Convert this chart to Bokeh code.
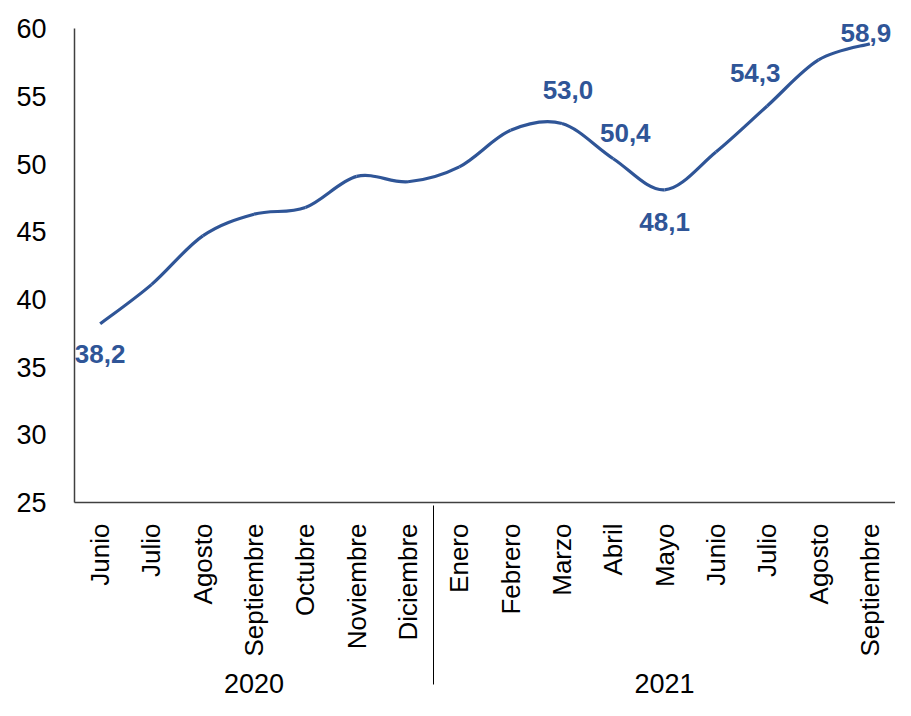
import numpy as np
from math import pi
from bokeh.plotting import figure
from bokeh.models import FactorRange, ColumnDataSource, Range1d, FixedTicker, LabelSet
from bokeh.embed import file_html
from bokeh.resources import INLINE
from bokeh.core.properties import value

# ---- data ----
years = ["2020"] * 7 + ["2021"] * 9
months = ["Junio", "Julio", "Agosto", "Septiembre", "Octubre", "Noviembre", "Diciembre",
          "Enero", "Febrero", "Marzo", "Abril", "Mayo", "Junio", "Julio", "Agosto", "Septiembre"]
values = [38.2, 41.1, 44.7, 46.3, 46.8, 49.1, 48.7,
          49.8, 52.5, 53.0, 50.4, 48.1, 50.9, 54.3, 57.7, 58.9]
y_ticks = [25, 30, 35, 40, 45, 50, 55, 60]
label_idx = [0, 9, 10, 11, 13, 15]

# label placement (screen px, positive = up)
label_dx = [0, 6, 12, 0, -12, -4]
label_dy = [-30, 34, 26, -32, 33, 11]

FONT = "Liberation Sans"
BLUE = "#2F5597"

factors = list(zip(years, months))
x_range = FactorRange(factors=factors, factor_padding=0, group_padding=0, range_padding=0)

p = figure(x_range=x_range, y_range=Range1d(25, 61.5),
           frame_width=821, frame_height=494,
           min_border_left=74, min_border_top=8, min_border_right=0, min_border_bottom=198,
           output_backend="svg", toolbar_location=None)
p.outline_line_color = None
p.xgrid.visible = False
p.ygrid.visible = False
p.background_fill_color = "white"
p.border_fill_color = "white"

# smoothed line (Catmull-Rom -> cubic Bezier) in synthetic categorical coords
xs = np.arange(len(values)) + 0.5
ys = np.array(values, dtype=float)
n = len(values)
x0, y0, x1, y1, cx0, cy0, cx1, cy1 = [], [], [], [], [], [], [], []
for i in range(n - 1):
    ip = max(i - 1, 0)
    inx = min(i + 2, n - 1)
    x0.append(xs[i]); y0.append(ys[i])
    x1.append(xs[i + 1]); y1.append(ys[i + 1])
    cx0.append(xs[i] + (xs[i + 1] - xs[ip]) / 6.0)
    cy0.append(ys[i] + (ys[i + 1] - ys[ip]) / 6.0)
    cx1.append(xs[i + 1] - (xs[inx] - xs[i]) / 6.0)
    cy1.append(ys[i + 1] - (ys[inx] - ys[i]) / 6.0)
bsrc = ColumnDataSource(dict(x0=x0, y0=y0, x1=x1, y1=y1, cx0=cx0, cy0=cy0, cx1=cx1, cy1=cy1))
p.bezier(x0="x0", y0="y0", x1="x1", y1="y1", cx0="cx0", cy0="cy0", cx1="cx1", cy1="cy1",
         source=bsrc, line_color=BLUE, line_width=3.2)

# data labels
lsrc = ColumnDataSource(dict(
    x=[factors[i] for i in label_idx],
    y=[values[i] for i in label_idx],
    t=[f"{values[i]:.1f}".replace(".", ",") for i in label_idx],
    dx=label_dx, dy=label_dy))
labels = LabelSet(x="x", y="y", text="t", x_offset="dx", y_offset="dy", source=lsrc,
                  text_font=value(FONT), text_font_size=value("26px"),
                  text_font_style=value("bold"), text_color=value(BLUE),
                  text_align=value("center"), text_baseline=value("middle"))
p.add_layout(labels)

# y axis
ya = p.yaxis[0]
ya.ticker = FixedTicker(ticks=y_ticks)
ya.bounds = (25, 60)
ya.major_tick_line_color = None
ya.minor_tick_line_color = None
ya.axis_line_color = "#404040"
ya.axis_line_width = 1.5
ya.major_label_text_font = FONT
ya.major_label_text_font_size = "27px"
ya.major_label_text_color = "black"
ya.major_label_standoff = 22

# x axis
xa = p.xaxis[0]
xa.major_tick_line_color = None
xa.minor_tick_line_color = None
xa.axis_line_color = "#404040"
xa.axis_line_width = 1.5
xa.major_label_orientation = pi / 2
xa.major_label_text_font = FONT
xa.major_label_text_font_size = "26px"
xa.major_label_text_color = "black"
xa.major_label_standoff = 15
xa.group_text_font = FONT
xa.group_text_font_size = "27px"
xa.group_text_font_style = "normal"
xa.group_text_color = "black"
xa.separator_line_color = "black"
xa.separator_line_width = 1

open("out.html", "w").write(file_html(p, INLINE))
